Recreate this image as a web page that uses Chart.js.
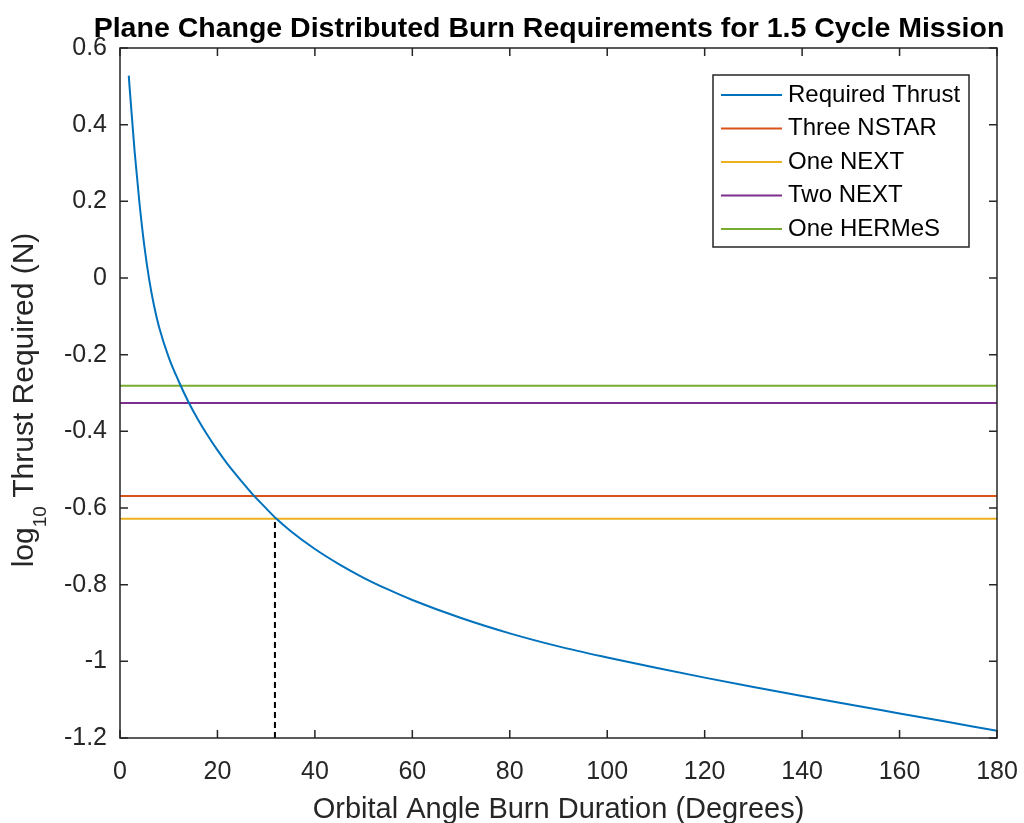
<!DOCTYPE html>
<html>
<head>
<meta charset="utf-8">
<script src="https://cdn.jsdelivr.net/npm/chart.js@4.4.1/dist/chart.umd.min.js"></script>
<style>
  html, body { margin: 0; padding: 0; background: #fff; }
  #wrap { width: 1024px; height: 823px; }
</style>
</head>
<body>
<div id="wrap"><canvas id="burnChart"></canvas></div>
<script>
// burn duration (deg) and log10 of the thrust needed
const angleDeg = [1.8, 2, 3, 4, 5, 6, 7, 8, 10, 12, 14, 16, 18, 20, 22, 25, 27, 30, 32, 35,
  40, 45, 50, 55, 60, 70, 80, 90, 100, 110, 120, 130, 140, 150, 160, 170, 180];
const requiredThrust = [0.528, 0.492, 0.33, 0.195, 0.083, -0.005, -0.073, -0.127, -0.207, -0.268,
  -0.322, -0.369, -0.411, -0.449, -0.484, -0.531, -0.561, -0.601, -0.627, -0.66,
  -0.707, -0.747, -0.782, -0.8125, -0.84, -0.887, -0.927, -0.961, -0.99, -1.017,
  -1.0425, -1.067, -1.0905, -1.1135, -1.136, -1.1585, -1.181];

// thruster options (log10 N)
const engineNames = ['Three NSTAR', 'One NEXT', 'Two NEXT', 'One HERMeS'];
const engineThrust = [-0.569, -0.628, -0.326, -0.281];

// where the curve meets One NEXT
const crossAngle = 31.8;

const xTickValues = [0, 20, 40, 60, 80, 100, 120, 140, 160, 180];
const yTickValues = [-1.2, -1, -0.8, -0.6, -0.4, -0.2, 0, 0.2, 0.4, 0.6];

const chartTitle = 'Plane Change Distributed Burn Requirements for 1.5 Cycle Mission';
const lineColors = ['#0072BD', '#D95319', '#EDB120', '#7E2F8E', '#77AC30'];
const axisColor = '#262626';
const fontFamily = "'Liberation Sans', Arial, Helvetica, sans-serif";

const datasets = [{
  label: 'Required Thrust',
  data: angleDeg.map((a, i) => ({ x: a, y: requiredThrust[i] })),
  borderColor: lineColors[0],
  borderWidth: 2,
  pointRadius: 0,
  cubicInterpolationMode: 'monotone',
}];

engineNames.forEach((name, i) => {
  datasets.push({
    label: name,
    data: [{ x: 0, y: engineThrust[i] }, { x: 180, y: engineThrust[i] }],
    borderColor: lineColors[i + 1],
    borderWidth: 2,
    pointRadius: 0,
  });
});

datasets.push({
  label: 'marker',
  data: [{ x: crossAngle, y: -1.2 }, { x: crossAngle, y: engineThrust[1] }],
  borderColor: '#000',
  borderWidth: 2,
  borderDash: [6, 4],
  pointRadius: 0,
  hideInLegend: true,
});

// MATLAB style box, inward ticks, title, y label with subscript and boxed legend
const matlabAxes = {
  id: 'matlabAxes',
  afterDatasetsDraw(chart) {
    const { ctx, chartArea: a, scales: { x, y } } = chart;
    ctx.save();
    ctx.strokeStyle = axisColor;
    ctx.lineWidth = 1.5;
    ctx.strokeRect(a.left, a.top, a.right - a.left, a.bottom - a.top);
    ctx.beginPath();
    x.ticks.forEach((t) => {
      const px = x.getPixelForValue(t.value);
      ctx.moveTo(px, a.bottom); ctx.lineTo(px, a.bottom - 8);
      ctx.moveTo(px, a.top); ctx.lineTo(px, a.top + 8);
    });
    y.ticks.forEach((t) => {
      const py = y.getPixelForValue(t.value);
      ctx.moveTo(a.left, py); ctx.lineTo(a.left + 8, py);
      ctx.moveTo(a.right, py); ctx.lineTo(a.right - 8, py);
    });
    ctx.stroke();

    // title
    ctx.fillStyle = '#000';
    ctx.font = `bold 28.5px ${fontFamily}`;
    ctx.textAlign = 'center';
    ctx.textBaseline = 'alphabetic';
    ctx.fillText(chartTitle, 549, 37);

    // y axis title
    const big = `30px ${fontFamily}`;
    const small = `19px ${fontFamily}`;
    const rest = ' Thrust Required (N)';
    ctx.font = big;
    const w1 = ctx.measureText('log').width;
    const w3 = ctx.measureText(rest).width;
    ctx.font = small;
    const w2 = ctx.measureText('10').width;
    const total = w1 + w2 + w3;
    ctx.translate(33, 400);
    ctx.rotate(-Math.PI / 2);
    ctx.fillStyle = axisColor;
    ctx.textAlign = 'left';
    let u = -total / 2;
    ctx.font = big;
    ctx.fillText('log', u, 0);
    u += w1;
    ctx.font = small;
    ctx.fillText('10', u, 13);
    u += w2;
    ctx.font = big;
    ctx.fillText(rest, u, 0);
    ctx.restore();

    // legend
    ctx.save();
    const items = chart.data.datasets.filter((d) => !d.hideInLegend);
    const box = { left: 713, top: 75, width: 256, height: 172 };
    ctx.fillStyle = '#fff';
    ctx.fillRect(box.left, box.top, box.width, box.height);
    ctx.strokeStyle = axisColor;
    ctx.lineWidth = 1.5;
    ctx.strokeRect(box.left, box.top, box.width, box.height);
    ctx.font = `24px ${fontFamily}`;
    ctx.textBaseline = 'middle';
    items.forEach((d, i) => {
      const cy = box.top + 20 + i * 33.5;
      ctx.strokeStyle = d.borderColor;
      ctx.lineWidth = 2;
      ctx.beginPath();
      ctx.moveTo(box.left + 8, cy);
      ctx.lineTo(box.left + 69, cy);
      ctx.stroke();
      ctx.fillStyle = '#000';
      ctx.fillText(d.label, box.left + 75, cy);
    });
    ctx.restore();
  },
};

new Chart(document.getElementById('burnChart'), {
  type: 'line',
  data: { datasets },
  plugins: [matlabAxes],
  options: {
    responsive: true,
    maintainAspectRatio: false,
    animation: false,
    layout: { padding: { left: 0, right: 27, top: 48, bottom: 0 } },
    plugins: {
      legend: { display: false },
      tooltip: { enabled: false },
      title: { display: false },
    },
    scales: {
      x: {
        type: 'linear',
        min: 0,
        max: 180,
        afterBuildTicks: (s) => { s.ticks = xTickValues.map((v) => ({ value: v })); },
        afterFit: (s) => { s.height = 85; s.paddingLeft = 0; s.paddingRight = 0; },
        grid: { display: false, drawTicks: false },
        border: { display: false },
        ticks: {
          color: axisColor,
          padding: 19,
          maxRotation: 0,
          font: { family: fontFamily, size: 25 },
        },
        title: {
          display: true,
          text: 'Orbital Angle Burn Duration (Degrees)',
          color: axisColor,
          font: { family: fontFamily, size: 29, lineHeight: 0.9 },
          padding: { top: 0, bottom: 0 },
        },
      },
      y: {
        type: 'linear',
        min: -1.2,
        max: 0.6,
        afterBuildTicks: (s) => { s.ticks = yTickValues.map((v) => ({ value: v })); },
        afterFit: (s) => { s.width = 120; s.paddingTop = 0; s.paddingBottom = 0; },
        grid: { display: false, drawTicks: false },
        border: { display: false },
        ticks: {
          color: axisColor,
          padding: 13,
          font: { family: fontFamily, size: 25 },
          callback: (v) => String(Math.round(v * 10) / 10),
        },
      },
    },
  },
});
</script>
</body>
</html>
